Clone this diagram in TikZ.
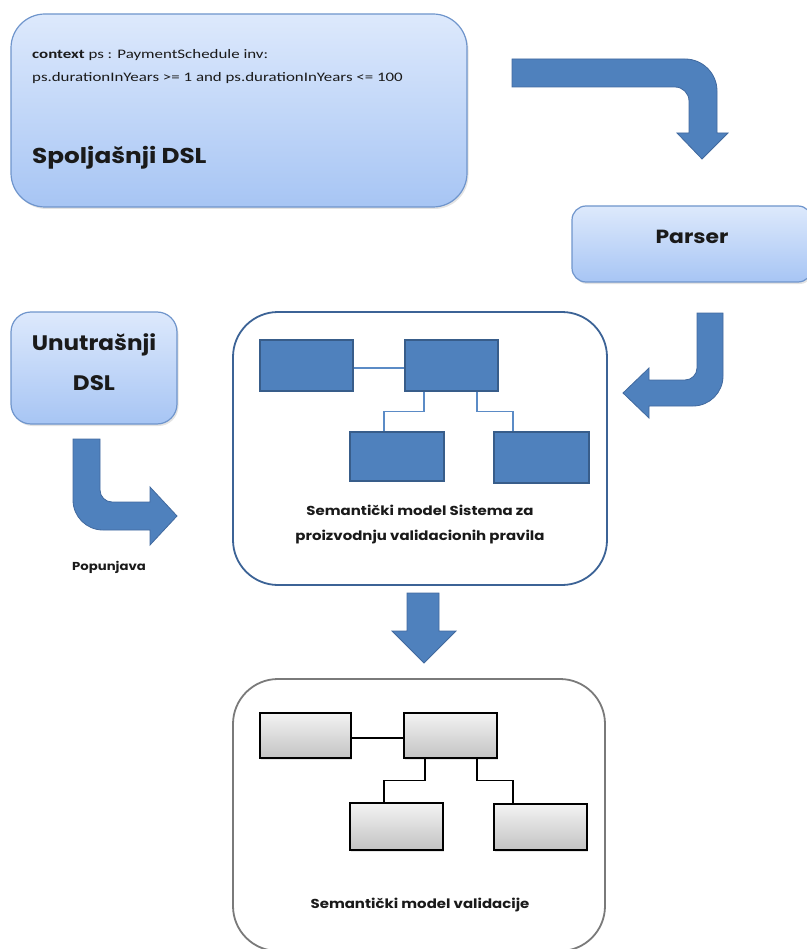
\documentclass[tikz,border=0pt]{standalone}
\usepackage{fontspec}
\usepackage{graphicx}
\setmainfont{Poppins}
\newfontfamily\codefont{Carlito}
\usetikzlibrary{shadows,calc}

% horizontally widened text
\newcommand\widetxt[2]{\scalebox{#1}[1]{#2}}

\definecolor{boxtop}{HTML}{DDE9FC}
\definecolor{boxbot}{HTML}{A7C5F4}
\definecolor{boxedge}{HTML}{6F95CC}
\definecolor{arrowfill}{HTML}{4F81BD}
\definecolor{arrowedge}{HTML}{41699E}
\definecolor{modeledge}{HTML}{3C6396}
\definecolor{rectfill}{HTML}{4F81BD}
\definecolor{rectedge}{HTML}{385D8A}
\definecolor{linkblue}{HTML}{5B8BC6}
\definecolor{greytop}{HTML}{F3F3F3}
\definecolor{greybot}{HTML}{C3C3C3}
\definecolor{greyedge}{HTML}{7A7A7A}
\definecolor{textdark}{HTML}{1A1A1A}

\tikzset{
  dslbox/.style={draw=boxedge, line width=1.2pt, top color=boxtop, bottom color=boxbot,
    inner sep=0pt, drop shadow={opacity=0.22, shadow xshift=1.5pt, shadow yshift=-2pt}},
  modelbox/.style={draw=modeledge, line width=1.8pt, fill=white, inner sep=0pt,
    rounded corners=45pt},
  resultbox/.style={draw=greyedge, line width=1.8pt, fill=white, inner sep=0pt,
    rounded corners=45pt},
  bluerect/.style={draw=rectedge, line width=2.6pt, fill=rectfill, inner sep=0pt},
  greyrect/.style={draw=black, line width=1.4pt, top color=greytop, bottom color=greybot,
    inner sep=0pt, drop shadow={opacity=0.2, shadow xshift=1pt, shadow yshift=-1.5pt}},
  blueline/.style={draw=linkblue, line width=1.2pt},
  blackline/.style={draw=black, line width=1.3pt},
  blockarrow/.style={fill=arrowfill, draw=arrowedge, line width=0.8pt, line join=miter},
  heading/.style={font=\bfseries\fontsize{21.5}{24}\selectfont, inner sep=0pt, text=textdark},
  caption/.style={font=\bfseries\fontsize{13}{15}\selectfont, inner sep=0pt, text=textdark},
  codeline/.style={font=\codefont\fontsize{13}{15}\selectfont, anchor=west, inner sep=0pt, text=textdark}
}

\begin{document}
\begin{tikzpicture}[x=1pt,y=-1pt]
\useasboundingbox (0,0) rectangle (806,949);

% external DSL box with its OCL sample
\node[dslbox, rounded corners=34pt, minimum width=456pt, minimum height=193pt] (ext) at (239,110.5) {};
\node[codeline] (ocl1) at (32,55) {\widetxt{1.3}{\textbf{context} ps : PaymentSchedule inv:}};
\node[codeline] (ocl2) at (32,78) {\widetxt{1.3}{ps.durationInYears >= 1 and ps.durationInYears <= 100}};
\node[heading, anchor=west] (extlabel) at (32,158) {\widetxt{1.15}{Spoljašnji DSL}};

% parser
\node[dslbox, rounded corners=14pt, minimum width=240pt, minimum height=76pt] (parser) at (692,244) {};
\node[heading, font=\bfseries\fontsize{19}{22}\selectfont] (parserlabel) at (692,237) {\widetxt{1.15}{Parser}};

% internal DSL
\node[dslbox, rounded corners=20pt, minimum width=166pt, minimum height=112pt] (int) at (94,368) {};
\node[heading, font=\bfseries\fontsize{21}{24}\selectfont] (intlabel1) at (94,345) {\widetxt{1.1}{Unutrašnji}};
\node[heading, font=\bfseries\fontsize{21}{24}\selectfont] (intlabel2) at (94,383) {\widetxt{1.1}{DSL}};

% semantic model of the rule-production system
\node[modelbox, minimum width=374pt, minimum height=273pt] (model) at (420,448.5) {};
\node[bluerect, minimum width=93pt, minimum height=51pt] (r1) at (306.5,365.5) {};
\node[bluerect, minimum width=93pt, minimum height=51pt] (r2) at (451.5,365.5) {};
\node[bluerect, minimum width=94pt, minimum height=49pt] (r3) at (397,456.5) {};
\node[bluerect, minimum width=95pt, minimum height=51pt] (r4) at (541.5,457.5) {};
\draw[blueline] ([yshift=-2.5pt]r1.east) -- ([yshift=-2.5pt]r2.west);
\draw[blueline] ([xshift=-27.5pt]r2.south) -- ++(0,19) -| ([xshift=-13pt]r3.north);
\draw[blueline] ([xshift=25.5pt]r2.south) -- ++(0,19) -| ([xshift=-28.5pt]r4.north);
\node[caption] (modellabel1) at (420,510) {\widetxt{1.15}{Semantički model Sistema za}};
\node[caption] (modellabel2) at (420,537) {\widetxt{1.15}{proizvodnju validacionih pravila}};

% semantic model of validation
\node[resultbox, minimum width=372pt, minimum height=272pt] (result) at (419,815) {};
\node[greyrect, minimum width=91pt, minimum height=45pt] (g1) at (305.5,735.5) {};
\node[greyrect, minimum width=93pt, minimum height=45pt] (g2) at (450.5,735.5) {};
\node[greyrect, minimum width=93pt, minimum height=47pt] (g3) at (396.5,826.5) {};
\node[greyrect, minimum width=93pt, minimum height=46pt] (g4) at (540.5,827) {};
\draw[blackline] ([yshift=-2.5pt]g1.east) -- ([yshift=-2.5pt]g2.west);
\draw[blackline] ([xshift=-25.5pt]g2.south) -- ++(0,22) -| ([xshift=-12.5pt]g3.north);
\draw[blackline] ([xshift=26.5pt]g2.south) -- ++(0,22) -| ([xshift=-27.5pt]g4.north);
\node[caption] (resultlabel) at (420,905) {\widetxt{1.15}{Semantički model validacije}};

% label of the filling arrow
\node[caption, font=\bfseries\fontsize{11.5}{13}\selectfont] (fill) at (109,567) {\widetxt{1.15}{Popunjava}};

% block arrows
% external DSL -> parser
\path[blockarrow] (512,59) -- (685,59) .. controls (702.7,59) and (717,73.3) .. (717,91)
  -- (717,133) -- (728,133) -- (702,159) -- (677,133) -- (689,133) -- (689,101)
  .. controls (689,93.3) and (682.7,87) .. (675,87) -- (512,87) -- cycle;
% internal DSL -> model
\path[blockarrow] (73,439) -- (100,439) -- (100,490) .. controls (100,496.6) and (105.4,502) .. (112,502)
  -- (150,502) -- (150,487) -- (177,516) -- (150,545) -- (150,530) -- (103,530)
  .. controls (86.4,530) and (73,516.6) .. (73,500) -- cycle;
% parser -> model
\path[blockarrow] (697,313) -- (723,313) -- (723,376) .. controls (723,392.6) and (709.6,406) .. (693,406)
  -- (649,406) -- (649,418) -- (623,393) -- (649,368) -- (649,380) -- (685,380)
  .. controls (691.6,380) and (697,374.6) .. (697,368) -- cycle;
% model -> validation model
\path[blockarrow] (407,593) -- (439,593) -- (439,631) -- (456,631) -- (424,663) -- (392,631) -- (407,631) -- cycle;
\end{tikzpicture}
\end{document}
